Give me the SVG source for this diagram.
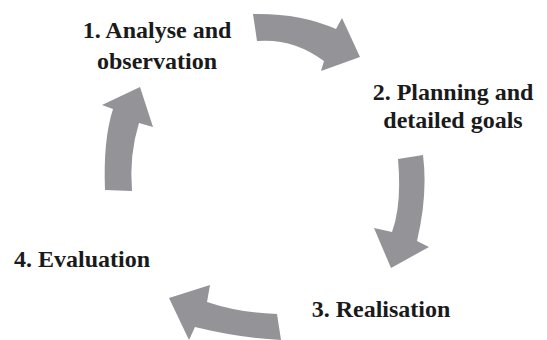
<svg xmlns="http://www.w3.org/2000/svg" width="547" height="340" viewBox="0 0 547 340">
<style>
.lbl{font-family:"Liberation Serif","Times New Roman",serif;font-weight:bold;font-size:24px;fill:#1a1a1a;text-anchor:middle}
.arr{fill:#939398;stroke:none}
</style>
<rect width="547" height="340" fill="#ffffff"/>
<g id="connectors">
<path class="arr" d="M253,14 Q300,13 336,29 L342,18 L360,57 L321,71 L324,61 Q293,38 257,41 Z"/>
<path class="arr" d="M398,159 Q402,205 392,232 L374,228 L391,268 L429,247 L417,241 Q428,195 423,155 Z"/>
<path class="arr" d="M277,314 Q240,313 207,302 L210,285 L169,298 L189,340 L195,327 Q240,338 281,340 Z"/>
<path class="arr" d="M105,190 Q103,140 113,109 L102,105 L140,87 L153,127 L139,123 Q129,155 132,191 Z"/>
</g>
<g id="node1"><text class="lbl" x="157" y="38">1. Analyse and</text><text class="lbl" x="157" y="69">observation</text></g>
<g id="node2"><text class="lbl" x="453" y="100">2. Planning and</text><text class="lbl" x="453" y="128">detailed goals</text></g>
<g id="node3"><text class="lbl" x="381" y="317">3. Realisation</text></g>
<g id="node4"><text class="lbl" x="82" y="267">4. Evaluation</text></g>
</svg>
